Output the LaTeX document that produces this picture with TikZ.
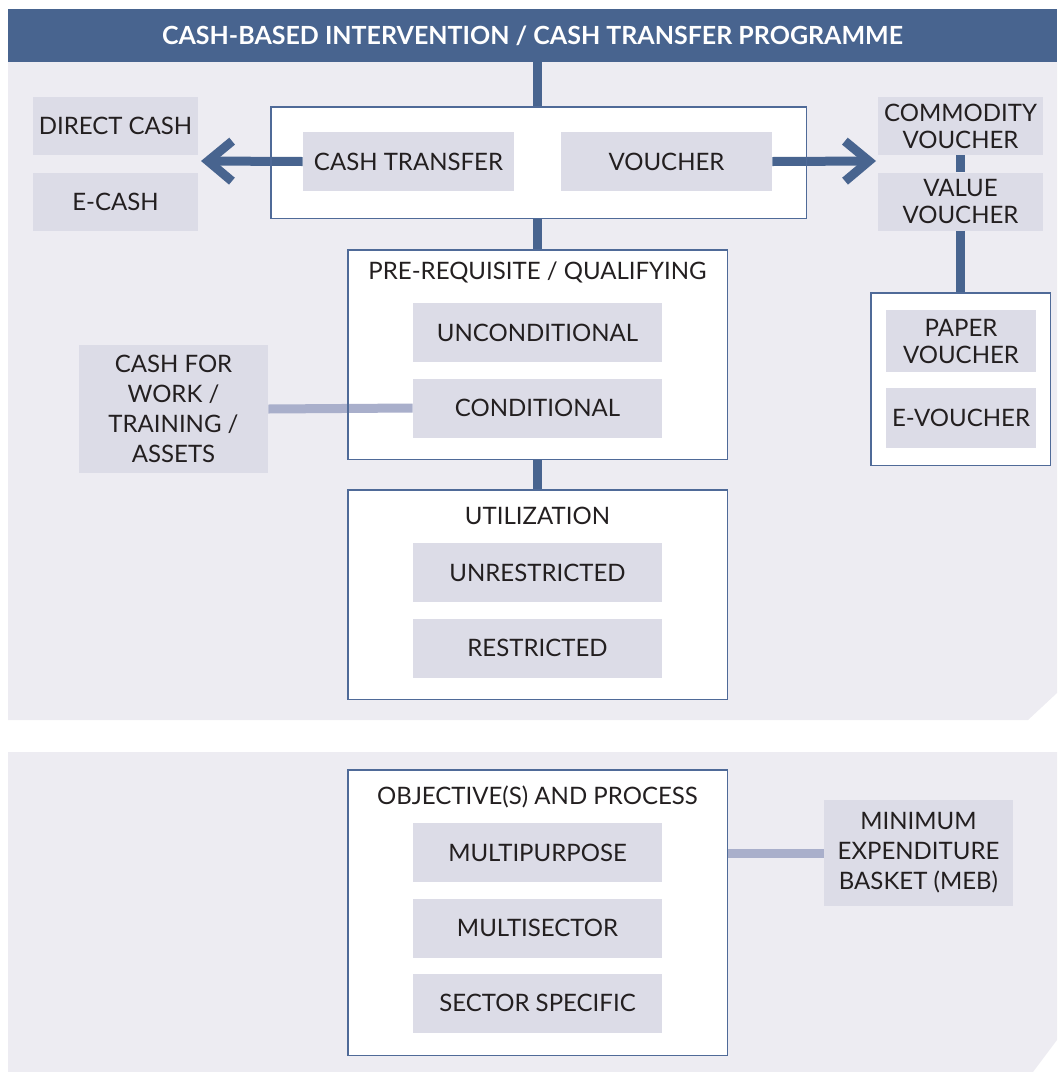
\documentclass[tikz,border=0pt]{standalone}
\usepackage{fontspec}
\setmainfont{Lato}
\usetikzlibrary{arrows.meta}
\definecolor{cbblue}{HTML}{48648F}
\definecolor{cbframe}{HTML}{4F6A98}
\definecolor{cbpanel}{HTML}{EDECF2}
\definecolor{cbitem}{HTML}{DCDCE7}
\definecolor{cbsoft}{HTML}{A9AFCB}
\definecolor{cbtext}{HTML}{231F20}
\begin{document}
\begin{tikzpicture}[x=0.5pt, y=-0.5pt,
    titlebar/.style={rectangle, fill=cbblue, text=white, inner sep=0pt, minimum width=524.5pt, minimum height=26.5pt, font=\bfseries\fontsize{12.5}{15}\selectfont},
    frame/.style={rectangle, fill=white, inner sep=0pt},
    rim/.style={draw=cbframe, line width=0.9pt},
    item/.style={rectangle, fill=cbitem, text=cbtext, align=center, inner sep=0pt, font=\fontsize{12}{13.5}\selectfont},
    wide/.style={item, minimum width=124.5pt, minimum height=29.5pt},
    side/.style={item, minimum width=82.5pt, minimum height=29pt},
    head/.style={text=cbtext, inner sep=0pt, font=\fontsize{12}{14}\selectfont},
    link/.style={draw=cbblue, line width=4.5pt},
    soft/.style={draw=cbsoft, line width=4.5pt},
    arrow/.style={link, -{Straight Barb[length=12pt, width=20pt]}}
]
    \useasboundingbox (0,0) rectangle (1057,1072);
    % background panels
    \fill[cbpanel] (8,62) -- (1057,62) -- (1057,693) -- (1028,720) -- (8,720) -- cycle;
    \fill[cbpanel] (8,752) -- (1057,752) -- (1057,1040) -- (1033,1072) -- (8,1072) -- cycle;

    \node[titlebar] (title) at (532.5,35.5) {CASH-BASED INTERVENTION / CASH TRANSFER PROGRAMME};

    % frames
    \node[frame, minimum width=267.5pt, minimum height=55.5pt] (topbox) at (538.5,162.5) {};
    \node[frame, minimum width=189.5pt, minimum height=104.5pt] (prereq) at (537.5,354.5) {};
    \node[frame, minimum width=189.5pt, minimum height=104.5pt] (util) at (537.5,594.5) {};
    \node[frame, minimum width=89.5pt, minimum height=86pt] (vframe) at (960.5,379) {};
    \node[frame, minimum width=189.5pt, minimum height=142.5pt] (objbox) at (537.5,912.5) {};

    % transfer modality
    \node[item, minimum width=105.5pt, minimum height=29.5pt] (cashtr) at (408.5,161.5) {CASH TRANSFER};
    \node[item, minimum width=105.5pt, minimum height=29.5pt] (voucher) at (666.5,161.5) {VOUCHER};
    \node[side] (direct) at (115.5,126) {DIRECT CASH};
    \node[side] (ecash) at (115.5,201.5) {E-CASH};
    \node[side] (commodity) at (960.5,126) {COMMODITY\\VOUCHER};
    \node[side] (value) at (960.5,201.5) {VALUE\\VOUCHER};
    \node[item, minimum width=75pt, minimum height=31pt] (paper) at (961,341) {PAPER\\VOUCHER};
    \node[item, minimum width=75pt, minimum height=30pt] (evoucher) at (961,418) {E-VOUCHER};
    \coordinate (cashend) at (201,161);
    \coordinate (vouchend) at (876,161);

    % conditionality
    \node[head] (prereqhead) at (537.5,272) {PRE-REQUISITE / QUALIFYING};
    \node[wide] (uncond) at (537.5,332.5) {UNCONDITIONAL};
    \node[wide] (cond) at (537.5,408) {CONDITIONAL};
    \node[item, minimum width=94.5pt, minimum height=64pt, font=\fontsize{12}{15}\selectfont] (cfw) at (173.5,409) {CASH FOR\\WORK /\\TRAINING /\\ASSETS};

    % restriction
    \node[head] (utilhead) at (537.5,516) {UTILIZATION};
    \node[wide] (unrestr) at (537.5,572.5) {UNRESTRICTED};
    \node[wide] (restr) at (537.5,648) {RESTRICTED};

    % objectives
    \node[head] (objhead) at (537.5,797) {OBJECTIVE(S) AND PROCESS};
    \node[wide] (multip) at (537.5,852.5) {MULTIPURPOSE};
    \node[wide] (multis) at (537.5,928) {MULTISECTOR};
    \node[wide] (sector) at (537.5,1003) {SECTOR SPECIFIC};
    \node[item, minimum width=94.5pt, minimum height=53pt, font=\fontsize{12}{15}\selectfont] (meb) at (918.5,853) {MINIMUM\\EXPENDITURE\\BASKET (MEB)};

    % connectors
    \draw[link] (prereq.north |- topbox.north) -- (prereq.north |- title.south);
    \draw[link] (prereq.north |- topbox.south) -- (prereq.north);
    \draw[link] (prereq.south) -- (util.north);
    \draw[link] (commodity.south) -- (value.north);
    \draw[link] (value.south) -- (vframe.north);
    \draw[arrow] (cashtr.west) -- (cashend);
    \draw[arrow] (voucher.east) -- (vouchend);
    \draw[soft] (cfw.east) -- (cond.west);
    \draw[soft] (objbox.east |- meb.west) -- (meb.west);

    % frame borders on top
    \foreach \f in {topbox,prereq,util,vframe,objbox}
        \draw[rim] (\f.south west) rectangle (\f.north east);
\end{tikzpicture}
\end{document}
